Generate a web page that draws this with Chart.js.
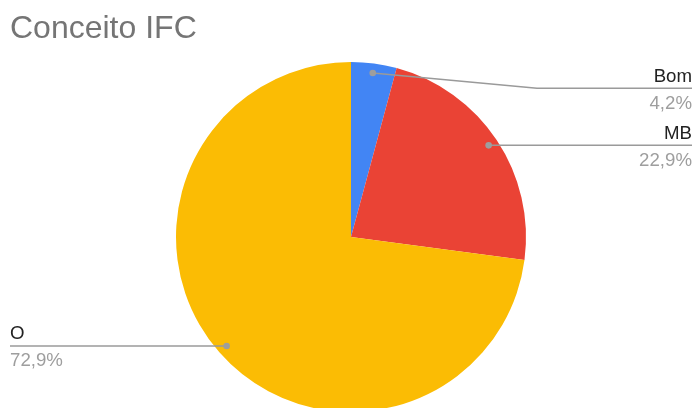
<!DOCTYPE html>
<html>
<head>
<meta charset="utf-8">
<script src="https://cdn.jsdelivr.net/npm/chart.js@4"></script>
<style>
  html, body { margin: 0; padding: 0; background: #fff; overflow: hidden; width: 695px; height: 408px; }
  #wrap { width: 695px; height: 420px; position: relative; }
</style>
</head>
<body>
<div id="wrap"><canvas id="c" width="695" height="420"></canvas></div>
<script>
const titleText = "Conceito IFC";
const categories = ["Bom", "MB", "O"];
const values = [4.2, 22.9, 72.9];
const percentLabels = ["4,2%", "22,9%", "72,9%"];
const sliceColors = ["#4285F4", "#EA4335", "#FBBC04"];

const labelPlugin = {
  id: 'labelPlugin',
  afterDraw(chart) {
    const ctx = chart.ctx;
    ctx.save();
    // title
    ctx.font = '32px "Liberation Sans", Arial, sans-serif';
    ctx.fillStyle = '#757575';
    ctx.textAlign = 'left';
    ctx.textBaseline = 'alphabetic';
    ctx.fillText(titleText, 10, 37.5);

    const meta = chart.getDatasetMeta(0);
    const rightEnd = 692, leftEnd = 10, elbowX = 537, minRightY = 88.3;
    meta.data.forEach((arc, i) => {
      const p = arc.getProps(['x', 'y', 'startAngle', 'endAngle', 'outerRadius'], true);
      const mid = (p.startAngle + p.endAngle) / 2;
      const r = p.outerRadius * 0.945;
      const dx = p.x + Math.cos(mid) * r;
      const dy = p.y + Math.sin(mid) * r;
      const right = Math.cos(mid) >= 0;
      ctx.strokeStyle = '#9a9a9a';
      ctx.lineWidth = 1.5;
      ctx.beginPath();
      let ly;
      if (right) {
        ly = Math.max(dy, minRightY);
        ctx.moveTo(dx, dy);
        ctx.lineTo(elbowX, ly);
        ctx.lineTo(rightEnd, ly);
      } else {
        ly = dy;
        ctx.moveTo(dx, dy);
        ctx.lineTo(leftEnd, ly);
      }
      ctx.stroke();
      ctx.fillStyle = '#9e9e9e';
      ctx.beginPath();
      ctx.arc(dx, dy, 3.3, 0, Math.PI * 2);
      ctx.fill();

      ctx.font = '18.67px "Liberation Sans", Arial, sans-serif';
      ctx.textAlign = right ? 'right' : 'left';
      const tx = right ? rightEnd : leftEnd;
      ctx.fillStyle = '#222222';
      ctx.fillText(categories[i], tx, ly - 6.5);
      ctx.fillStyle = '#9e9e9e';
      ctx.fillText(percentLabels[i], tx, ly + 20.5);
    });
    ctx.restore();
  }
};

new Chart(document.getElementById('c'), {
  type: 'pie',
  data: {
    labels: categories,
    datasets: [{
      data: values,
      backgroundColor: sliceColors,
      borderWidth: 0
    }]
  },
  options: {
    responsive: false,
    devicePixelRatio: 1,
    animation: false,
    layout: { padding: { left: 176, right: 169, top: 62, bottom: 8 } },
    plugins: {
      legend: { display: false },
      tooltip: { enabled: false },
      title: { display: false }
    }
  },
  plugins: [labelPlugin]
});
</script>
</body>
</html>
